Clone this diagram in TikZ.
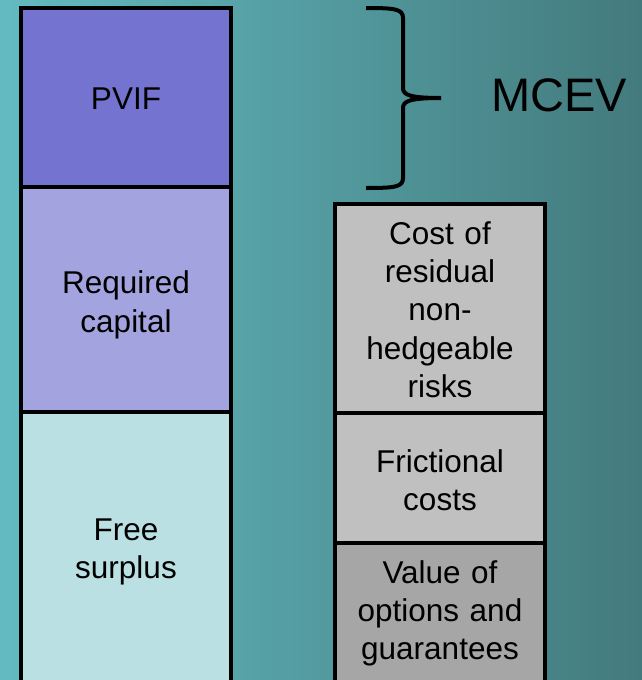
\documentclass[tikz,border=0pt]{standalone}
\usepackage{fontspec}
\setmainfont{Liberation Sans}
\definecolor{bgL}{HTML}{63BBC1}
\definecolor{bgR}{HTML}{437A7D}
\definecolor{pvif}{HTML}{7474D0}
\definecolor{reqc}{HTML}{A3A3E0}
\definecolor{free}{HTML}{BBE0E3}
\definecolor{lgray}{HTML}{C0C0C0}
\definecolor{dgray}{HTML}{A6A6A6}
\tikzset{
  blk/.style={draw=black, line width=4pt, minimum width=210pt, inner sep=0pt},
  txt/.style={inner sep=0pt, align=center, font=\fontsize{31.5}{38.3}\selectfont, text width=200pt},
}
\begin{document}
\begin{tikzpicture}[x=1pt,y=-1pt]
\useasboundingbox (0,0) rectangle (642,680);
\begin{scope}
\clip (0,0) rectangle (642,680);
\shade[left color=bgL, right color=bgR] (0,0) rectangle (642,680);
% left column
\node[blk, fill=free, minimum height=274pt] (free) at (126,549) {};
\node[blk, fill=reqc, minimum height=225pt] (req) at (126,299.5) {};
\node[blk, fill=pvif, minimum height=179pt] (pvif) at (126,97.5) {};
\node[txt] (freet) at ([yshift=-3pt]free.center) {Free\\surplus};
\node[txt] (reqt) at ([yshift=-5.5pt]req.center) {Required\\capital};
\node[txt] (pvift) at ([yshift=-1pt]pvif.center) {PVIF};
% right column
\node[blk, fill=dgray, minimum height=139pt] (vog) at (440,612.5) {};
\node[blk, fill=lgray, minimum height=130pt] (fric) at (440,478) {};
\node[blk, fill=lgray, minimum height=209pt] (cost) at (440,308.5) {};
\node[txt] (vogt) at ([yshift=-1pt]vog.center) {Value of\\options and\\guarantees};
\node[txt] (frict) at ([yshift=-2pt]fric.center) {Frictional\\costs};
\node[txt] (costt) at ([yshift=-1pt]cost.center) {Cost of\\residual\\non-\\hedgeable\\risks};
% brace
\draw[line width=4pt] (366,8) .. controls (395,8) and (403,9) .. (403,18) -- (403,88)
  .. controls (403,95) and (410,98) .. (441,98)
  .. controls (410,98) and (403,101) .. (403,108) -- (403,178)
  .. controls (403,187) and (395,188) .. (366,188);
\node[font=\fontsize{47}{56}\selectfont, inner sep=0pt] (mcev) at (559,95) {MCEV};
\end{scope}
\end{tikzpicture}
\end{document}
